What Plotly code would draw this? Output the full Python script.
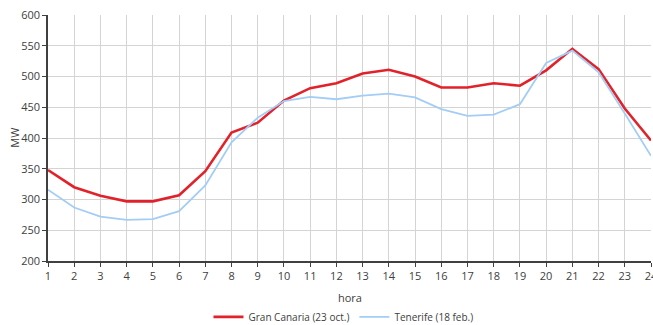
import plotly.graph_objects as go

hours = list(range(1, 25))
gran_canaria = [348, 320, 306, 297, 297, 307, 346, 409, 425, 461, 481, 489,
                505, 511, 500, 482, 482, 489, 485, 510, 545, 512, 448, 396]
tenerife = [316, 287, 272, 267, 268, 281, 323, 393, 433, 460, 467, 463,
            469, 472, 466, 447, 436, 438, 455, 522, 542, 507, 440, 371]
y_ticks = [200, 250, 300, 350, 400, 450, 500, 550, 600]

fig = go.Figure()
fig.add_trace(go.Scatter(x=hours, y=gran_canaria, mode="lines",
                         name="Gran Canaria (23 oct.)",
                         line=dict(color="#e2222b", width=2.6)))
fig.add_trace(go.Scatter(x=hours, y=tenerife, mode="lines",
                         name="Tenerife (18 feb.)",
                         line=dict(color="#a3cdf5", width=1.8)))

font_family = "Open Sans, Liberation Sans, sans-serif"
fig.update_layout(
    width=653, height=325,
    margin=dict(l=48, r=2, t=15, b=64, autoexpand=False),
    paper_bgcolor="white", plot_bgcolor="white",
    font=dict(family=font_family, size=11, color="#404040"),
    showlegend=True,
    legend=dict(orientation="h", x=0.49, xanchor="center", y=-0.168, yanchor="top",
                font=dict(size=10, color="#404040"),
                traceorder="normal"),
    xaxis=dict(range=[1, 24], tickmode="array", tickvals=hours,
               ticktext=[str(h) for h in hours], automargin=False,
               ticklabeloverflow="allow",
               showgrid=True, gridcolor="#d4d4d4", gridwidth=1,
               showline=True, linecolor="#404040", linewidth=1.5,
               ticks="outside", ticklen=4, tickcolor="#404040",
               zeroline=False),
    yaxis=dict(range=[200, 600], tickmode="array", tickvals=y_ticks,
               automargin=False, ticklabeloverflow="allow",
               showgrid=True, gridcolor="#d4d4d4", gridwidth=1,
               showline=True, linecolor="#404040", linewidth=1.5,
               ticks="outside", ticklen=4, tickcolor="#404040",
               zeroline=False),
    annotations=[
        dict(text="hora", xref="paper", yref="paper", x=0.5, y=-0.15,
             xanchor="center", yanchor="middle", showarrow=False,
             font=dict(size=11, color="#404040")),
        dict(text="MW", xref="paper", yref="paper", x=-0.057, y=0.5,
             xanchor="center", yanchor="middle", showarrow=False, textangle=-90,
             font=dict(size=11, color="#404040")),
    ],
)

fig.write_html(
    "out.html",
    config={"displayModeBar": False},
    post_script="document.body.style.margin='0';"
                "document.documentElement.style.overflow='hidden';",
)
